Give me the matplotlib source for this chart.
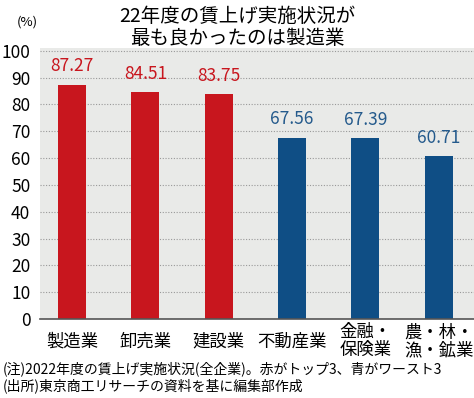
import numpy as np
import matplotlib
matplotlib.use('Agg')
from matplotlib import pyplot as plt

plt.rcParams['font.family'] = ['Noto Sans CJK JP', 'DejaVu Sans']

# data
industries = ['製造業', '卸売業', '建設業', '不動産業', '金融・\n保険業', '農・林・\n漁・鉱業']
rates = [87.27, 84.51, 83.75, 67.56, 67.39, 60.71]
groups = ['top', 'top', 'top', 'worst', 'worst', 'worst']
yticks = [0, 10, 20, 30, 40, 50, 60, 70, 80, 90, 100]

RED = '#c8161e'
BLUE = '#0f4e85'
colors = [RED if g == 'top' else BLUE for g in groups]
label_colors = ['#c8161e' if g == 'top' else '#245a8c' for g in groups]

fig = plt.figure(figsize=(4.74, 3.98), dpi=100)
ax = fig.add_axes([40 / 474, 1 - 319 / 398, 1 - 40 / 474, (319 - 48) / 398])
ax.set_facecolor('#e9eae8')

index = np.arange(len(industries))
ax.bar(index, rates, 0.38, color=colors, zorder=3)

for i, v in enumerate(rates):
    ax.text(i, v + 3.5, f'{v:.2f}', ha='center', va='bottom', fontsize=12.5,
            color=label_colors[i], zorder=4)

ax.set_xlim(-0.436, 5.48)
ax.set_ylim(0, 101)
ax.set_yticks(yticks)
ax.set_yticklabels([str(t) for t in yticks], fontsize=12.5)
ax.set_xticks(index)
ax.set_xticklabels(industries, fontsize=12.5, linespacing=1.0)
for lbl in ax.get_xticklabels():
    lbl.set_verticalalignment('center')
ax.tick_params(axis='x', length=0, pad=16)
ax.tick_params(axis='y', length=0, pad=7)
ax.grid(axis='y', linestyle=(0, (1, 1.5)), color='#999999', linewidth=0.8, zorder=1)

for s in ['top', 'right', 'left']:
    ax.spines[s].set_visible(False)
ax.spines['bottom'].set_color('#555555')
ax.spines['bottom'].set_linewidth(1.2)
ax.spines['bottom'].set_zorder(5)

fig.text(0.5, 0.985, '22年度の賃上げ実施状況が\n最も良かったのは製造業', ha='center', va='top',
         fontsize=14, linespacing=1.05)
fig.text(17 / 474, 1 - 22 / 398, '(%)', ha='left', va='center', fontsize=9.5)
fig.text(0.005, 1 - 369 / 398, '(注)2022年度の賃上げ実施状況(全企業)。赤がトップ3、青がワースト3',
         ha='left', va='center', fontsize=10)
fig.text(0.005, 1 - 386 / 398, '(出所)東京商工リサーチの資料を基に編集部作成',
         ha='left', va='center', fontsize=10)

fig.savefig('out.png', dpi=100)
